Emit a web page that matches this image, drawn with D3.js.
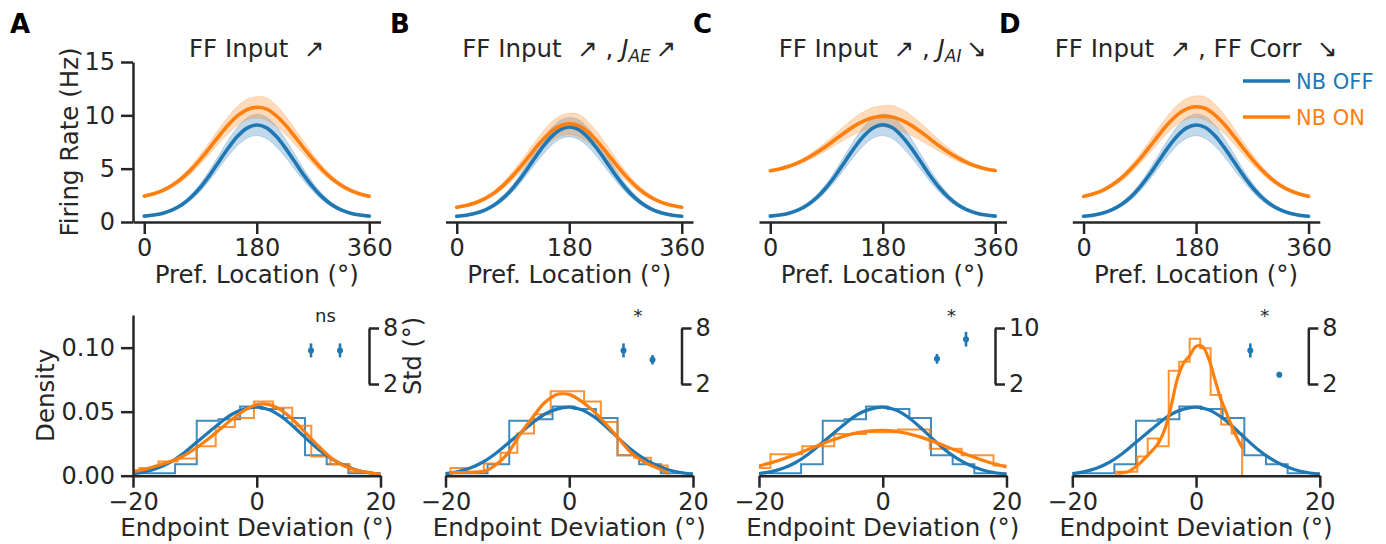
<!DOCTYPE html>
<html>
<head>
<meta charset="utf-8">
<script src="https://cdn.jsdelivr.net/npm/d3@7"></script>
<style>
  html, body { margin: 0; padding: 0; background: #fff; }
  svg text { font-family: "DejaVu Sans", sans-serif; fill: #262626; white-space: pre; }
</style>
</head>
<body>
<svg id="fig" width="1386" height="544"></svg>
<script>
// ---------------- data ----------------
const panelIds = ["A", "B", "C", "D"];

// tuning curves: preferred location (deg) and mean firing rate (Hz) with band half-width
const prefLocation = [0,15,30,45,60,75,90,105,120,135,150,165,180,195,210,225,240,255,270,285,300,315,330,345,360];
const prefTicks = [0, 180, 360];
const rateTicks = [0, 5, 10, 15];

const rateOffA = [0.55,0.65,0.83,1.14,1.62,2.32,3.26,4.41,5.70,6.98,8.08,8.83,9.10,8.85,8.10,7.00,5.72,4.42,3.27,2.33,1.62,1.14,0.83,0.65,0.55];
const semOffA  = [0.08,0.09,0.10,0.13,0.18,0.26,0.36,0.48,0.62,0.75,0.87,0.95,1.00,1.02,0.97,0.86,0.72,0.56,0.42,0.30,0.20,0.14,0.10,0.09,0.08];
const rateOnA  = [2.42,2.64,2.97,3.45,4.09,4.91,5.89,6.97,8.09,9.14,9.99,10.55,10.75,10.60,10.02,9.15,8.08,6.96,5.88,4.90,4.08,3.44,2.96,2.63,2.41];
const semOnA   = [0.12,0.13,0.16,0.20,0.27,0.35,0.45,0.56,0.68,0.80,0.90,0.97,1.00,1.06,1.00,0.88,0.74,0.60,0.47,0.36,0.27,0.20,0.16,0.13,0.12];

const rateOffB = [0.54,0.64,0.82,1.12,1.59,2.28,3.19,4.32,5.58,6.83,7.91,8.64,8.90,8.66,7.93,6.84,5.59,4.32,3.19,2.28,1.59,1.12,0.82,0.64,0.54];
const semOffB  = [0.07,0.08,0.10,0.12,0.17,0.24,0.33,0.44,0.57,0.70,0.80,0.87,0.90,0.92,0.88,0.78,0.66,0.52,0.39,0.28,0.19,0.13,0.10,0.08,0.07];
const rateOnB  = [1.39,1.55,1.80,2.19,2.73,3.46,4.36,5.39,6.49,7.54,8.42,9.00,9.20,9.04,8.45,7.55,6.49,5.38,4.35,3.45,2.72,2.18,1.79,1.54,1.38];
const semOnB   = [0.10,0.11,0.13,0.17,0.22,0.30,0.40,0.52,0.64,0.76,0.87,0.95,1.00,1.05,0.98,0.86,0.72,0.57,0.44,0.33,0.24,0.17,0.13,0.11,0.10];

const rateOffC = [0.55,0.65,0.83,1.14,1.62,2.32,3.26,4.41,5.70,6.98,8.08,8.84,9.12,8.86,8.09,6.99,5.71,4.41,3.26,2.32,1.62,1.14,0.83,0.65,0.55];
const semOffC  = [0.08,0.09,0.10,0.13,0.18,0.26,0.36,0.49,0.63,0.76,0.88,0.96,1.02,1.04,0.99,0.88,0.74,0.57,0.43,0.30,0.20,0.14,0.10,0.09,0.08];
const rateOnC  = [4.80,4.98,5.23,5.57,6.00,6.53,7.13,7.78,8.42,9.01,9.48,9.79,9.90,9.85,9.55,9.08,8.48,7.82,7.15,6.54,6.01,5.57,5.23,4.98,4.82];
const semOnC   = [0.12,0.13,0.15,0.18,0.24,0.32,0.42,0.54,0.66,0.78,0.88,0.96,1.00,1.08,1.05,0.95,0.82,0.68,0.54,0.42,0.31,0.22,0.16,0.13,0.12];

const rateOffD = [0.54,0.64,0.83,1.14,1.62,2.31,3.25,4.40,5.69,6.97,8.07,8.82,9.10,8.86,8.10,6.99,5.71,4.42,3.26,2.32,1.62,1.14,0.83,0.64,0.54];
const semOffD  = [0.08,0.09,0.10,0.13,0.18,0.26,0.36,0.48,0.62,0.76,0.88,0.96,1.01,1.03,0.98,0.87,0.73,0.56,0.42,0.30,0.20,0.14,0.10,0.09,0.08];
const rateOnD  = [2.40,2.62,2.95,3.44,4.08,4.92,5.90,6.99,8.12,9.18,10.04,10.60,10.80,10.64,10.05,9.16,8.09,6.96,5.87,4.90,4.07,3.43,2.96,2.63,2.41];
const semOnD   = [0.12,0.13,0.16,0.20,0.27,0.35,0.45,0.57,0.69,0.81,0.91,0.98,1.02,1.08,1.02,0.89,0.75,0.61,0.48,0.36,0.27,0.20,0.16,0.13,0.12];

// endpoint deviation distributions (deg) : smooth density and step histograms
const devGrid = [-20,-18,-16,-14,-12,-10,-8,-6,-4,-2,0,2,4,6,8,10,12,14,16,18,20];
const devTicks = [-20, 0, 20];
const densityTicks = [0, 0.05, 0.10];

const densityOff = [0.0016,0.0032,0.006,0.0105,0.017,0.025,0.033,0.041,0.048,0.052,0.0535,0.0515,0.046,0.038,0.029,0.0205,0.0135,0.0083,0.0047,0.0025,0.0012];
const histOffEdges   = [-20.2,-16.7,-13.2,-9.7,-6.2,-2.7,0.8,4.3,7.8,11.3,14.8,18.3,21.8];
const histOffDensity = [0.002,0.002,0.009,0.043,0.044,0.054,0.052,0.045,0.016,0.009,0.002,0.002];

const devOnA = devGrid;
const densityOnA = [0.003,0.005,0.008,0.011,0.015,0.021,0.028,0.036,0.044,0.051,0.0555,0.0555,0.051,0.043,0.033,0.023,0.014,0.008,0.0045,0.0025,0.0012];
const histOnEdgesA   = [-22.08,-18.99,-15.9,-12.81,-9.72,-6.63,-3.54,-0.45,2.64,5.73,8.82,11.91,15.0,18.09,21.18];
const histOnDensityA = [0.004,0.006,0.011,0.0135,0.023,0.038,0.045,0.058,0.053,0.039,0.015,0.009,0.003,0.002];

const devOnB = [-19.2,-17,-15,-13.4,-12,-10,-8,-6,-4,-2,-1,0,2,4,6,8,10,12,14,15.6];
const densityOnB = [0.0025,0.0025,0.0028,0.004,0.008,0.017,0.032,0.045,0.057,0.0635,0.064,0.0635,0.058,0.050,0.040,0.029,0.018,0.011,0.0065,0.003];
const histOnEdgesB   = [-19.2,-16.5,-13.8,-11.1,-8.4,-5.7,-3.0,-0.3,2.4,5.1,7.8,10.5,13.2,15.9];
const histOnDensityB = [0.006,0.003,0.0096,0.018,0.033,0.048,0.066,0.066,0.058,0.042,0.016,0.014,0.008];

const devOnC = devGrid;
const densityOnC = [0.0076,0.0102,0.0133,0.0168,0.0206,0.0244,0.028,0.0312,0.0336,0.0351,0.0355,0.0348,0.033,0.0303,0.027,0.0233,0.0194,0.0157,0.0123,0.0093,0.0069];
const histOnEdgesC   = [-23.3,-18.15,-13.0,-7.85,-2.7,2.45,7.6,12.75,17.9,23.05];
const histOnDensityC = [0.006,0.0167,0.023,0.0325,0.034,0.036,0.021,0.016,0.008];

const devOnD = [-12.5,-11,-10,-9,-8,-7,-6,-5,-4,-3,-2,-1,0,1,2,3,4,5,6,7,7.45];
const densityOnD = [0.002,0.003,0.006,0.010,0.015,0.020,0.026,0.037,0.055,0.076,0.088,0.094,0.101,0.101,0.092,0.076,0.060,0.048,0.036,0.026,0.022];
const histOnEdgesD   = [-12.9,-11.2,-9.5,-7.81,-6.12,-4.42,-2.72,-1.03,0.67,2.36,4.06,5.76,7.45];
const histOnDensityD = [0.003,0.003,0.015,0.029,0.023,0.082,0.089,0.107,0.0995,0.063,0.040,0.033];

// spread of endpoints (std, deg) with error, NB OFF vs NB ON
const stdGroups = ["NB OFF", "NB ON"];
const stdOff    = [5.6, 5.6, 5.6, 5.6];
const stdOffErr = [0.75, 0.75, 0.7, 0.75];
const stdOn     = [5.6, 4.6, 8.4, 3.0];
const stdOnErr  = [0.75, 0.5, 1.05, 0.3];
const stdTicks  = [[2, 8], [2, 8], [2, 10], [2, 8]];
const sigLabels = ["ns", "*", "*", "*"];

const legendLabels = ["NB OFF", "NB ON"];
const panelTitles = [
  [{t: "FF Input  \u2197"}],
  [{t: "FF Input  \u2197 , "}, {t: "J", it: true}, {t: "AE", it: true, sub: true}, {t: "\u2009\u2197"}],
  [{t: "FF Input  \u2197 , "}, {t: "J", it: true}, {t: "AI", it: true, sub: true}, {t: "\u2009\u2198"}],
  [{t: "FF Input  \u2197 , FF Corr  \u2198"}]
];

// ---------------- drawing ----------------
const ink = "#262626", blue = "#1f77b4", orange = "#ff7f0e";
const svg = d3.select("#fig");
const lefts = [133, 445.5, 759, 1072.3];
const axW = 247.5;
const topY = [222, 62], botY = [475.7, 315];
const labelSize = "24.5px";

const rateOff = [rateOffA, rateOffB, rateOffC, rateOffD];
const semOff  = [semOffA, semOffB, semOffC, semOffD];
const rateOn  = [rateOnA, rateOnB, rateOnC, rateOnD];
const semOn   = [semOnA, semOnB, semOnC, semOnD];
const devOn   = [devOnA, devOnB, devOnC, devOnD];
const densOn  = [densityOnA, densityOnB, densityOnC, densityOnD];
const hOnE    = [histOnEdgesA, histOnEdgesB, histOnEdgesC, histOnEdgesD];
const hOnD    = [histOnDensityA, histOnDensityB, histOnDensityC, histOnDensityD];

function styleAxis(g) {
  g.attr("font-size", null).attr("font-family", null);
  g.select(".domain").attr("stroke", ink).attr("stroke-width", 2.5);
  g.selectAll(".tick line").attr("stroke", ink).attr("stroke-width", 2.5);
  g.selectAll(".tick text").attr("fill", ink).style("font-size", "24px");
}

function stepPath(edges, dens, x, y) {
  let p = "M" + x(edges[0]) + "," + y(0);
  dens.forEach((d, k) => {
    p += "V" + y(d) + "H" + x(edges[k + 1]);
  });
  p += "V" + y(0);
  return p;
}

const defs = svg.append("defs");

panelIds.forEach((id, i) => {
  const x0 = lefts[i];
  const cx = x0 + axW / 2;

  // ----- top row: tuning curves -----
  const xT = d3.scaleLinear().domain([-18, 378]).range([x0, x0 + axW]);
  const yT = d3.scaleLinear().domain([0, 15]).range(topY);
  const gT = svg.append("g");

  const band = (rate, sem) => d3.area()
    .x((d, k) => xT(prefLocation[k]))
    .y0((d, k) => yT(rate[k] - sem[k]))
    .y1((d, k) => yT(rate[k] + sem[k]))
    .curve(d3.curveCatmullRom)(rate);
  const line = (rate) => d3.line()
    .x((d, k) => xT(prefLocation[k]))
    .y(d => yT(d))
    .curve(d3.curveCatmullRom)(rate);

  [[rateOff[i], semOff[i], blue], [rateOn[i], semOn[i], orange]].forEach(([r, s, c]) => {
    gT.append("path").attr("d", band(r, s)).attr("fill", c).attr("fill-opacity", 0.28)
      .attr("stroke", c).attr("stroke-opacity", 0.22).attr("stroke-width", 1);
  });
  [[rateOff[i], blue], [rateOn[i], orange]].forEach(([r, c]) => {
    gT.append("path").attr("d", line(r)).attr("fill", "none").attr("stroke", c)
      .attr("stroke-width", 3.6).attr("stroke-linecap", "round");
  });

  const axXT = svg.append("g").attr("transform", `translate(0,${topY[0]})`)
    .call(d3.axisBottom(xT).tickValues(prefTicks).tickSize(12).tickPadding(5).tickSizeOuter(0));
  styleAxis(axXT);
  svg.append("text").attr("x", cx).attr("y", 283).attr("text-anchor", "middle")
    .style("font-size", labelSize).text("Pref. Location (\u00b0)");

  if (i === 0) {
    const axYT = svg.append("g").attr("transform", `translate(${x0},0)`)
      .call(d3.axisLeft(yT).tickValues(rateTicks).tickSize(12).tickPadding(6).tickSizeOuter(0));
    styleAxis(axYT);
    svg.append("text").attr("transform", `translate(77.5,${(topY[0] + topY[1]) / 2}) rotate(-90)`)
      .attr("text-anchor", "middle").style("font-size", labelSize).text("Firing Rate (Hz)");
  }

  // title
  const tt = svg.append("text").attr("x", cx).attr("y", 57).attr("text-anchor", "middle")
    .style("font-size", labelSize);
  let shifted = 0;
  panelTitles[i].forEach(seg => {
    const ts = tt.append("tspan").text(seg.t);
    if (seg.it) ts.style("font-style", "italic");
    if (seg.sub) { ts.style("font-size", "17px").attr("dy", 5); shifted = 5; }
    else if (shifted) { ts.attr("dy", -shifted); shifted = 0; }
  });

  // panel letter
  svg.append("text").attr("x", [10, 390, 693, 999][i]).attr("y", 33)
    .style("font-size", "26px").style("font-weight", "bold").style("fill", "#000").text(id);

  // ----- bottom row: endpoint deviation -----
  const xB = d3.scaleLinear().domain([-20, 20]).range([x0, x0 + axW]);
  const yB = d3.scaleLinear().domain([0, 0.1255]).range(botY);

  defs.append("clipPath").attr("id", "clip" + id).append("rect")
    .attr("x", x0).attr("y", botY[1] - 2).attr("width", axW).attr("height", botY[0] - botY[1] + 4);
  const gB = svg.append("g").attr("clip-path", `url(#clip${id})`);

  gB.append("path").attr("d", stepPath(histOffEdges, histOffDensity, xB, yB))
    .attr("fill", "none").attr("stroke", blue).attr("stroke-width", 2).attr("stroke-opacity", 0.85);
  gB.append("path").attr("d", stepPath(hOnE[i], hOnD[i], xB, yB))
    .attr("fill", "none").attr("stroke", orange).attr("stroke-width", 2).attr("stroke-opacity", 0.85);

  const dline = (xs, ys) => d3.line().x((d, k) => xB(xs[k])).y(d => yB(d)).curve(d3.curveCatmullRom)(ys);
  gB.append("path").attr("d", dline(devGrid, densityOff)).attr("fill", "none")
    .attr("stroke", blue).attr("stroke-width", 3.2).attr("stroke-linecap", "round");
  gB.append("path").attr("d", dline(devOn[i], densOn[i])).attr("fill", "none")
    .attr("stroke", orange).attr("stroke-width", 3.2).attr("stroke-linecap", "round");

  const axXB = svg.append("g").attr("transform", `translate(0,${botY[0]})`)
    .call(d3.axisBottom(xB).tickValues(devTicks).tickSize(12).tickPadding(5).tickSizeOuter(0));
  styleAxis(axXB);
  svg.append("text").attr("x", cx).attr("y", 536).attr("text-anchor", "middle")
    .style("font-size", labelSize).text("Endpoint Deviation (\u00b0)");

  if (i === 0) {
    const axYB = svg.append("g").attr("transform", `translate(${x0},0)`)
      .call(d3.axisLeft(yB).tickValues(densityTicks).tickFormat(d3.format(".2f"))
        .tickSize(12).tickPadding(6).tickSizeOuter(0));
    styleAxis(axYB);
    svg.append("text").attr("transform", `translate(53.5,${(botY[0] + botY[1]) / 2}) rotate(-90)`)
      .attr("text-anchor", "middle").style("font-size", labelSize).text("Density");
  }

  // ----- inset: std of endpoints -----
  const xS = d3.scalePoint().domain(stdGroups).range([x0 + 178, x0 + 207]);
  const yS = d3.scaleLinear().domain(stdTicks[i]).range([384, 328]);
  const gS = svg.append("g");
  [[stdOff[i], stdOffErr[i], stdGroups[0]], [stdOn[i], stdOnErr[i], stdGroups[1]]].forEach(([v, e, grp]) => {
    gS.append("line").attr("x1", xS(grp)).attr("x2", xS(grp))
      .attr("y1", yS(v - e)).attr("y2", yS(v + e))
      .attr("stroke", blue).attr("stroke-width", 2.6);
    gS.append("circle").attr("cx", xS(grp)).attr("cy", yS(v)).attr("r", 3).attr("fill", blue);
  });
  gS.append("text").attr("x", (xS(stdGroups[0]) + xS(stdGroups[1])) / 2).attr("y", 322)
    .attr("text-anchor", "middle").style("font-size", "18px").text(sigLabels[i]);
  const axS = svg.append("g").attr("transform", `translate(${x0 + 236},0)`)
    .call(d3.axisRight(yS).tickValues(stdTicks[i]).tickFormat(d3.format("d"))
      .tickSize(10).tickPadding(4).tickSizeOuter(0));
  styleAxis(axS);
  if (i === 0) {
    svg.append("text").attr("transform", `translate(421,${(384 + 328) / 2}) rotate(-90)`)
      .attr("text-anchor", "middle").style("font-size", "24px").text("Std (\u00b0)");
  }
});

// legend (top-right panel)
const lg = svg.append("g");
[[blue, 81], [orange, 117]].forEach(([c, y], k) => {
  lg.append("line").attr("x1", 1243).attr("x2", 1290).attr("y1", y).attr("y2", y)
    .attr("stroke", c).attr("stroke-width", 3.6);
  lg.append("text").attr("x", 1296).attr("y", y + 8).style("font-size", "21px")
    .style("fill", c).text(legendLabels[k]);
});
</script>
</body>
</html>
